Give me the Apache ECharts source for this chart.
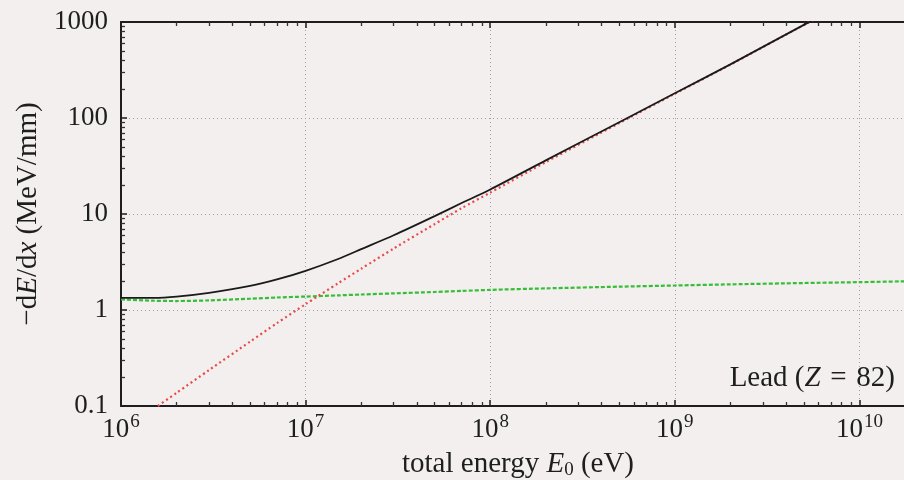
<!DOCTYPE html>
<html>
<head>
<meta charset="utf-8">
<script src="https://cdn.jsdelivr.net/npm/echarts@6/dist/echarts.min.js"></script>
<style>
html,body{margin:0;padding:0;background:#f2efee;overflow:hidden;}
#chart{width:904px;height:480px;}
</style>
</head>
<body>
<div id="chart"></div>
<script>
// ---- data ----
const energies  = [1e6, 1.5e6, 2e6, 3e6, 5e6, 7e6, 1e7, 1.5e7, 2e7, 3e7, 5e7, 7e7, 1e8, 2e8, 5e8, 1e9, 2e9, 5e9, 1e10, 2e10];
const totalLoss = [1.34, 1.34, 1.38, 1.51, 1.78, 2.08, 2.56, 3.4, 4.3, 6.0, 9.5, 13.0, 18.0, 36.2, 90.3, 181, 362, 933, 1870, 3750];
const radLoss   = [0.054, 0.093, 0.137, 0.237, 0.468, 0.73, 1.15, 1.9, 2.69, 4.37, 7.85, 11.5, 16.7, 34.7, 88.5, 179, 360, 931, 1868, 3748];
const collLoss  = [1.29, 1.25, 1.24, 1.26, 1.31, 1.35, 1.38, 1.42, 1.45, 1.49, 1.54, 1.58, 1.62, 1.68, 1.75, 1.80, 1.85, 1.91, 1.95, 2.0];
const xTickValues = [1e6, 1e7, 1e8, 1e9, 1e10];
const xTickExponents = ['6', '7', '8', '9', '10'];
const yTickValues = [0.1, 1, 10, 100, 1000];
const yTickLabels = ['0.1', '1', '10', '100', '1000'];
const annotation = 'Lead ({i|Z}\u2004=\u200482)';
const xName = 'total energy {i|E}{sub|0} (eV)';
const yName = '\u2212d{i|E}/d{i|x} (MeV/mm)';

function minorList(lo, hi) {
  const out = [];
  for (let d = lo; d < hi; d++) for (let m = 2; m <= 9; m++) out.push(+(m * Math.pow(10, d)).toPrecision(3));
  return out;
}
const xMinor = minorList(6, 11);
const yMinor = minorList(-1, 3);

const FONT = 'Liberation Serif';
const FS = 27;
const NFS = 29;
const INK = '#1e1e1e';

function pair(xs, ys) { return xs.map((x, i) => [x, ys[i]]); }

const chart = echarts.init(document.getElementById('chart'), null, {renderer: 'canvas'});

const xBase = {type: 'log', logBase: 10, min: 1e6, max: 2e10, gridIndex: 0};
const yBase = {type: 'log', logBase: 10, min: 0.1, max: 1000, gridIndex: 0};

function xLabel(v) {
  const idx = xTickValues.findIndex(t => Math.abs(Math.log10(t) - Math.log10(v)) < 1e-6);
  if (idx < 0) return '';
  return '{b|10}{s|' + xTickExponents[idx] + '}';
}
function yLabel(v) {
  const idx = yTickValues.findIndex(t => Math.abs(Math.log10(t) - Math.log10(v)) < 1e-6);
  return idx < 0 ? '' : yTickLabels[idx];
}

const majorTick = {show: true, inside: true, length: 6, lineStyle: {color: INK, width: 1.5}};
function minorTick(vals) {
  return {show: true, inside: true, length: 4, customValues: vals, lineStyle: {color: '#333', width: 1.3}};
}

const option = {
  backgroundColor: '#f2efee',
  animation: false,
  textStyle: {fontFamily: FONT},
  grid: {left: 121, top: 22, right: -11, bottom: 74, containLabel: false, outerBoundsMode: 'none'},
  xAxis: [
    Object.assign({}, xBase, {
      position: 'bottom',
      axisLine: {show: true, lineStyle: {color: INK, width: 2}},
      axisTick: majorTick,
      axisLabel: {
        show: true, margin: 7, color: INK, fontFamily: FONT, fontSize: FS,
        showMaxLabel: false,
        formatter: xLabel,
        rich: {
          b: {fontFamily: FONT, fontSize: FS, color: INK, lineHeight: 30, verticalAlign: 'bottom'},
          s: {fontFamily: FONT, fontSize: 19, color: INK, lineHeight: 30, verticalAlign: 'top', padding: [0, 0, 0, 1]}
        }
      },
      splitLine: {show: true, lineStyle: {color: '#a0a0a0', width: 1, type: [1, 3]}},
      name: xName,
      nameLocation: 'middle',
      nameGap: 42,
      nameTextStyle: {
        fontFamily: FONT, fontSize: NFS, color: INK,
        rich: {
          i: {fontFamily: FONT, fontSize: NFS, fontStyle: 'italic', color: INK},
          sub: {fontFamily: FONT, fontSize: 19, color: INK, verticalAlign: 'bottom', lineHeight: 32}
        }
      }
    }),
    Object.assign({}, xBase, {
      position: 'bottom',
      axisLine: {show: false},
      axisTick: minorTick(xMinor),
      axisLabel: {show: false},
      splitLine: {show: false}
    }),
    Object.assign({}, xBase, {
      position: 'top',
      axisLine: {show: true, lineStyle: {color: INK, width: 2}},
      axisTick: majorTick,
      axisLabel: {show: false},
      splitLine: {show: false}
    }),
    Object.assign({}, xBase, {
      position: 'top',
      axisLine: {show: false},
      axisTick: minorTick(xMinor),
      axisLabel: {show: false},
      splitLine: {show: false}
    })
  ],
  yAxis: [
    Object.assign({}, yBase, {
      position: 'left',
      axisLine: {show: true, lineStyle: {color: INK, width: 2}},
      axisTick: majorTick,
      axisLabel: {
        show: true, margin: 13, color: INK, fontFamily: FONT, fontSize: FS,
        formatter: yLabel
      },
      splitLine: {show: true, lineStyle: {color: '#a0a0a0', width: 1, type: [1, 3]}},
      name: yName,
      nameLocation: 'middle',
      nameRotate: 90,
      nameGap: 76,
      nameTextStyle: {
        fontFamily: FONT, fontSize: NFS, color: INK,
        rich: {
          i: {fontFamily: FONT, fontSize: NFS, fontStyle: 'italic', color: INK}
        }
      }
    }),
    Object.assign({}, yBase, {
      position: 'left',
      axisLine: {show: false},
      axisTick: minorTick(yMinor),
      axisLabel: {show: false},
      splitLine: {show: false}
    })
  ],
  series: [
    {
      name: 'collision', type: 'line', xAxisIndex: 0, yAxisIndex: 0,
      data: pair(energies, collLoss), showSymbol: false, smooth: 0.25,
      lineStyle: {color: '#36bf36', width: 2.2, type: [4, 2]}
    },
    {
      name: 'radiative', type: 'line', xAxisIndex: 0, yAxisIndex: 0,
      data: pair(energies, radLoss), showSymbol: false, smooth: 0.25,
      lineStyle: {color: '#e84a4a', width: 2.2, type: [2, 3]}
    },
    {
      name: 'total', type: 'line', xAxisIndex: 0, yAxisIndex: 0,
      data: pair(energies, totalLoss), showSymbol: false, smooth: 0.25,
      lineStyle: {color: '#1a1a1a', width: 1.8}
    }
  ],
  graphic: [
    {
      type: 'text', right: 9, top: 364, z: 100,
      style: {
        text: annotation,
        fill: INK,
        font: NFS + 'px "' + FONT + '"',
        rich: {
          i: {fontFamily: FONT, fontSize: NFS, fontStyle: 'italic', fill: INK}
        }
      }
    }
  ]
};
chart.setOption(option);
</script>
</body>
</html>
